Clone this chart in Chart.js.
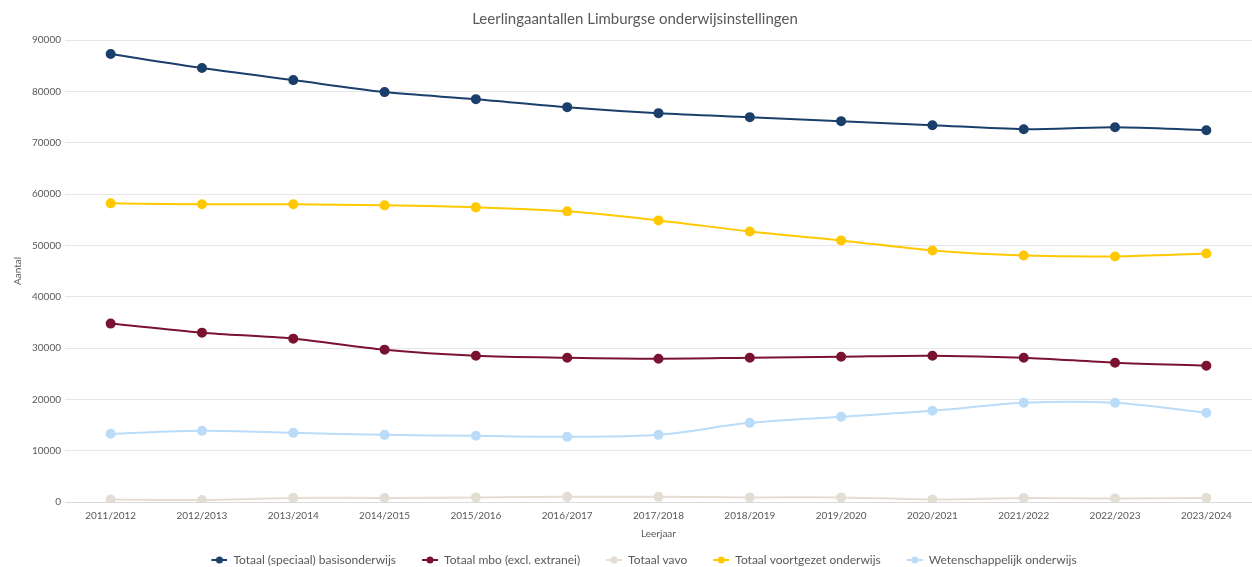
<!DOCTYPE html>
<html>
<head>
<meta charset="utf-8">
<script src="https://cdn.jsdelivr.net/npm/chart.js@4"></script>
<style>
  html, body { margin: 0; padding: 0; background: #fff; overflow: hidden; }
  #wrap { width: 1258px; height: 567px; }
</style>
</head>
<body>
<div id="wrap"><canvas id="chart"></canvas></div>
<script>
// data
const years = ["2011/2012", "2012/2013", "2013/2014", "2014/2015", "2015/2016", "2016/2017",
    "2017/2018", "2018/2019", "2019/2020", "2020/2021", "2021/2022", "2022/2023", "2023/2024"];
const basis = [87270, 84540, 82190, 79850, 78480, 76920, 75750, 74970, 74190, 73410, 72630, 73020, 72430];
const mbo = [34750, 32990, 31820, 29680, 28500, 28110, 27920, 28110, 28310, 28500, 28110, 27140, 26550];
const vavo = [500, 400, 800, 800, 900, 1000, 1000, 900, 900, 500, 800, 700, 800];
const voortgezet = [58180, 57990, 57990, 57790, 57400, 56620, 54860, 52710, 50960, 49000, 48030, 47830, 48420];
const wo = [13280, 13860, 13470, 13080, 12890, 12690, 13080, 15420, 16600, 17770, 19330, 19330, 17380];

const FONT = "Lato, 'Open Sans', sans-serif";
const GREY = "#595959";

function series(label, data, color) {
    return {
        label: label,
        data: data,
        borderColor: color,
        backgroundColor: color,
        borderWidth: 2,
        pointRadius: 4,
        pointHoverRadius: 4,
        tension: 0.3
    };
}

// legend marker like Excel: short line with a dot (left half left blank as spacing)
function legendMarker(color) {
    const c = document.createElement("canvas");
    c.width = 34;
    c.height = 10;
    const g = c.getContext("2d");
    g.strokeStyle = color;
    g.lineWidth = 2;
    g.beginPath();
    g.moveTo(18, 5);
    g.lineTo(34, 5);
    g.stroke();
    g.fillStyle = color;
    g.beginPath();
    g.arc(26, 5, 3.5, 0, Math.PI * 2);
    g.fill();
    return c;
}

const ctx = document.getElementById("chart").getContext("2d");
new Chart(ctx, {
    type: "line",
    data: {
        labels: years,
        datasets: [
            series("Totaal (speciaal) basisonderwijs", basis, "#1B3F6B"),
            series("Totaal mbo (excl. extranei)", mbo, "#7A1232"),
            series("Totaal vavo", vavo, "#E4DDD4"),
            series("Totaal voortgezet onderwijs", voortgezet, "#FFC800"),
            series("Wetenschappelijk onderwijs", wo, "#BADCF8")
        ]
    },
    options: {
        responsive: true,
        maintainAspectRatio: false,
        animation: false,
        layout: { padding: { left: 12, right: 0, top: 2, bottom: -9 } },
        plugins: {
            title: {
                display: true,
                text: "Leerlingaantallen Limburgse onderwijsinstellingen",
                color: GREY,
                font: { family: FONT, size: 15, weight: "normal" },
                padding: { top: 8, bottom: 12 }
            },
            legend: {
                position: "bottom",
                labels: {
                    color: GREY,
                    font: { family: FONT, size: 12 },
                    usePointStyle: true,
                    pointStyleWidth: 34,
                    padding: 8,
                    generateLabels: chart => chart.data.datasets.map((ds, i) => ({
                        text: ds.label,
                        fillStyle: ds.borderColor,
                        strokeStyle: ds.borderColor,
                        lineWidth: 0,
                        pointStyle: legendMarker(ds.borderColor),
                        hidden: false,
                        datasetIndex: i,
                        fontColor: GREY
                    }))
                }
            },
            tooltip: { enabled: false }
        },
        scales: {
            x: {
                offset: true,
                grid: { display: false },
                border: { color: "#d9d9d9" },
                ticks: { color: GREY, font: { family: FONT, size: 10 }, maxRotation: 0, padding: 0 },
                title: {
                    display: true,
                    text: "Leerjaar",
                    color: GREY,
                    font: { family: FONT, size: 10 },
                    padding: { top: 6, bottom: 6 }
                }
            },
            y: {
                min: 0,
                max: 90000,
                ticks: {
                    stepSize: 10000,
                    color: GREY,
                    font: { family: FONT, size: 10 },
                    padding: 4,
                    callback: v => String(v)
                },
                grid: { color: "#e6e6e6", drawTicks: false },
                border: { display: false },
                title: {
                    display: true,
                    text: "Aantal",
                    color: GREY,
                    font: { family: FONT, size: 10 },
                    padding: { top: 0, bottom: 4 }
                }
            }
        }
    }
});
</script>
</body>
</html>
